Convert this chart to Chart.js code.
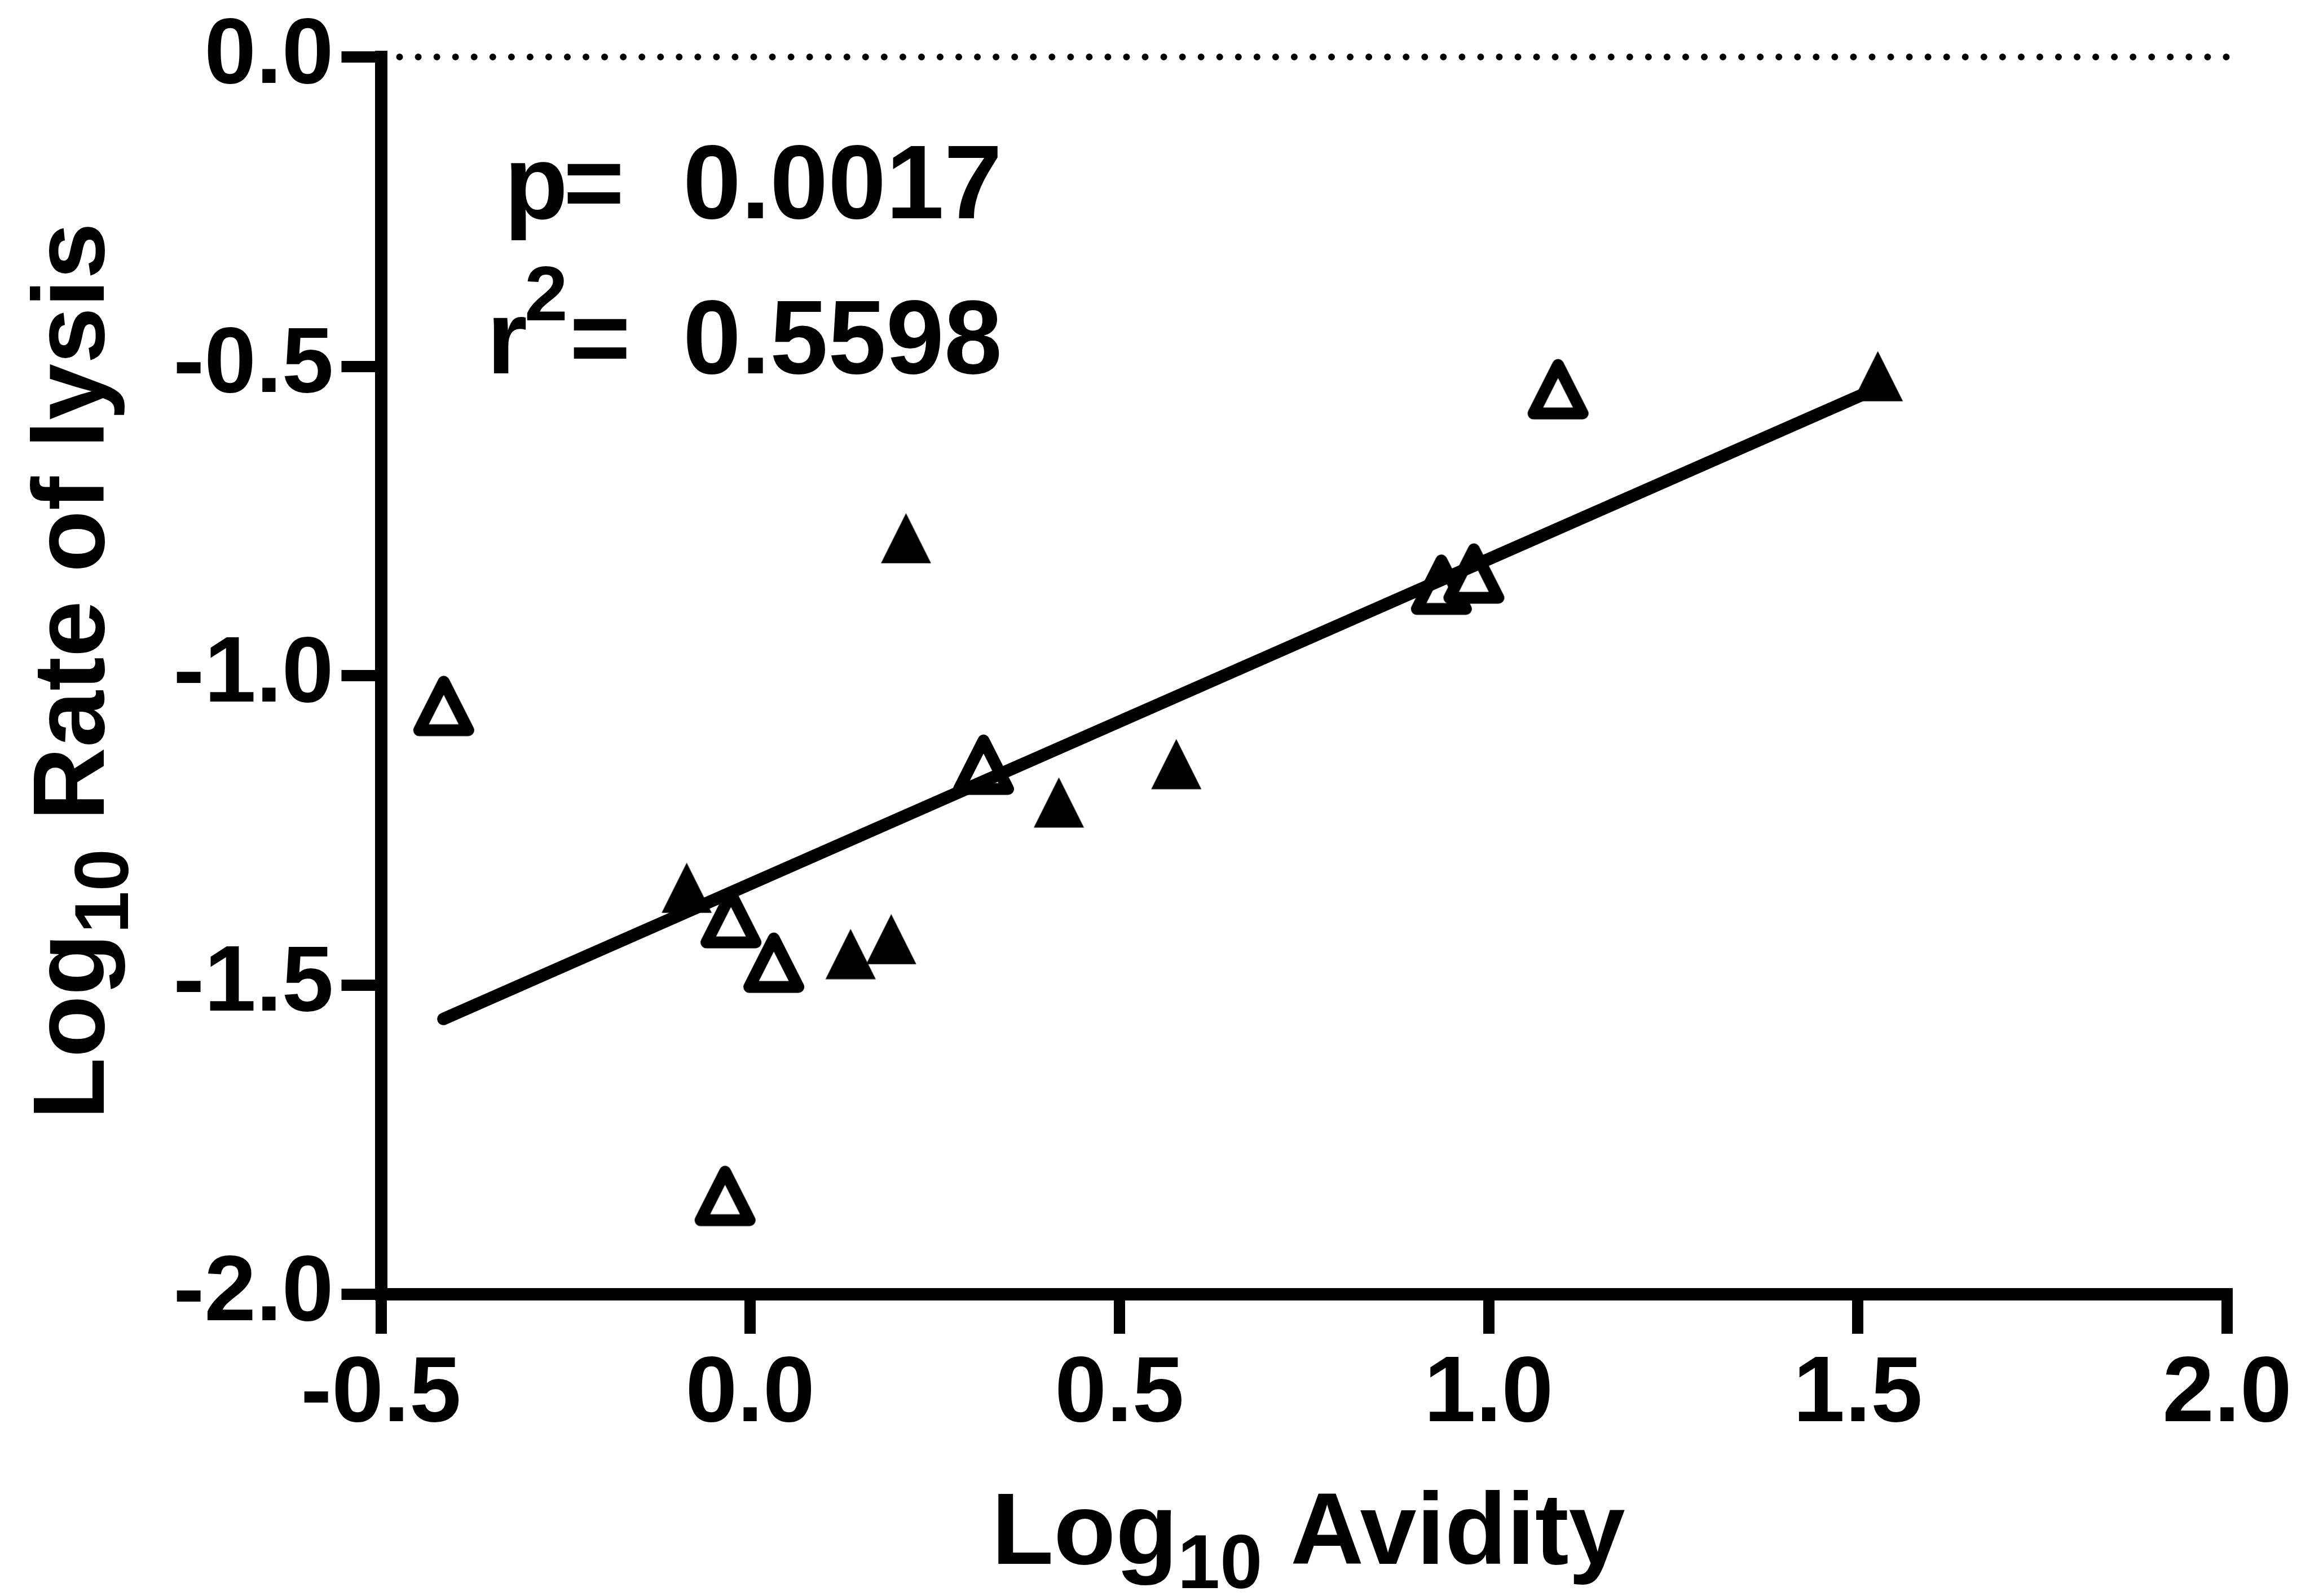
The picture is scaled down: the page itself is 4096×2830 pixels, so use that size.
<!DOCTYPE html>
<html>
<head>
<meta charset="utf-8">
<script src="https://cdn.jsdelivr.net/npm/chart.js@4.4.1/dist/chart.umd.min.js"></script>
<style>
  html, body { margin: 0; padding: 0; background: #fff; overflow: hidden; }
  canvas { display: block; }
</style>
</head>
<body>
<canvas id="grafica-avidez" width="4096" height="2830"></canvas>
<script>
// ticks de los ejes
const ticksX = [-0.5, 0.0, 0.5, 1.0, 1.5, 2.0];
const ticksY = [-2.0, -1.5, -1.0, -0.5, 0.0];

// triangulos abiertos
const abiertosX = [-0.415, -0.034, -0.026, 0.032, 0.316, 0.936, 0.980, 1.094];
const abiertosY = [-1.049, -1.841, -1.392, -1.464, -1.144, -0.853, -0.835, -0.537];

// triangulos rellenos
const rellenosX = [-0.086, 0.136, 0.191, 0.211, 0.418, 0.577, 1.527];
const rellenosY = [-1.343, -1.450, -1.426, -0.778, -1.205, -1.143, -0.516];

// recta de regresion
const ajusteX = [-0.4155, 1.527];
const ajusteY = [-1.555, -0.535];

// linea punteada en cero
const ceroX = [-0.5, 2.0];
const ceroY = [0, 0];

const pValor = '0.0017';
const r2Valor = '0.5598';

const FUENTE = "'Liberation Sans', Arial, Helvetica, sans-serif";

const aPuntos = (xs, ys) => xs.map((x, i) => ({ x, y: ys[i] }));

const crearTriangulo = (relleno) => {
    const c = document.createElement('canvas');
    const ctx = c.getContext('2d');
    if (relleno) {
        c.width = 90; c.height = 90;
        ctx.beginPath();
        ctx.moveTo(45, 0.5);
        ctx.lineTo(89.5, 89.5);
        ctx.lineTo(0.5, 89.5);
        ctx.closePath();
        ctx.fillStyle = '#000';
        ctx.fill();
    } else {
        c.width = 110; c.height = 110;
        ctx.beginPath();
        ctx.moveTo(55, 12);
        ctx.lineTo(98.5, 98);
        ctx.lineTo(11.5, 98);
        ctx.closePath();
        ctx.fillStyle = '#fff';
        ctx.fill();
        ctx.lineJoin = 'round';
        ctx.lineWidth = 21;
        ctx.strokeStyle = '#000';
        ctx.stroke();
    }
    return c;
};

// titulo tipo "Log10 xxx" con subindice
const dibujarTituloLog = (ctx, resto, cx, base) => {
    ctx.font = `bold 180px ${FUENTE}`;
    const wLog = ctx.measureText('Log').width;
    const wResto = ctx.measureText(' ' + resto).width;
    ctx.font = `bold 135px ${FUENTE}`;
    const wSub = ctx.measureText('10').width;
    const inicio = cx - (wLog + wSub + wResto) / 2;
    ctx.textAlign = 'left';
    ctx.fillText('10', inicio + wLog, base + 43);
    ctx.font = `bold 180px ${FUENTE}`;
    ctx.fillText('Log', inicio, base);
    ctx.fillText(' ' + resto, inicio + wLog + wSub, base);
};

const textosPlugin = {
    id: 'textos',
    afterDraw(chart) {
        const ctx = chart.ctx;
        ctx.save();
        ctx.fillStyle = '#000';
        ctx.textBaseline = 'alphabetic';

        dibujarTituloLog(ctx, 'Avidity', 2320, 2773);

        ctx.save();
        ctx.translate(184, 1190);
        ctx.rotate(-Math.PI / 2);
        dibujarTituloLog(ctx, 'Rate of lysis', 0, 0);
        ctx.restore();

        ctx.textAlign = 'left';
        ctx.font = `bold 185px ${FUENTE}`;
        ctx.fillText('p', 894, 387);
        ctx.fillText('=', 999, 387);
        ctx.fillText(pValor, 1211, 387);
        ctx.fillText('r', 863, 662);
        ctx.fillText('=', 1010, 662);
        ctx.fillText(r2Valor, 1211, 662);
        ctx.font = `bold 138px ${FUENTE}`;
        ctx.fillText('2', 930, 568);
        ctx.restore();
    }
};

const formatoTick = (v) => (Math.abs(v) < 1e-9 ? '0.0' : Number(v).toFixed(1));

const ejeComun = {
    type: 'linear',
    grid: { drawOnChartArea: false, drawTicks: true, tickLength: 70, lineWidth: 20, color: '#000' },
    border: { display: true, width: 22, color: '#000' },
    title: { display: false }
};

const ctx = document.getElementById('grafica-avidez').getContext('2d');
new Chart(ctx, {
    type: 'scatter',
    data: {
        datasets: [
            {
                label: 'fit',
                data: aPuntos(ajusteX, ajusteY),
                showLine: true,
                borderColor: '#000',
                borderWidth: 22,
                borderCapStyle: 'round',
                pointRadius: 0,
                order: 0
            },
            {
                label: 'filled',
                data: aPuntos(rellenosX, rellenosY),
                pointStyle: crearTriangulo(true),
                pointRadius: 10,
                order: 1
            },
            {
                label: 'open',
                data: aPuntos(abiertosX, abiertosY),
                pointStyle: crearTriangulo(false),
                pointRadius: 10,
                order: 2
            },
            {
                label: 'zero',
                data: aPuntos(ceroX, ceroY),
                showLine: true,
                borderColor: '#000',
                borderWidth: 12,
                borderDash: [0, 33.05],
                borderCapStyle: 'round',
                pointRadius: 0,
                order: 3
            }
        ]
    },
    options: {
        responsive: false,
        animation: false,
        devicePixelRatio: 1,
        clip: false,
        layout: { padding: { top: 101, right: 147, left: 0, bottom: 0 } },
        plugins: { legend: { display: false }, tooltip: { enabled: false } },
        scales: {
            x: {
                ...ejeComun,
                position: 'bottom',
                min: -0.5,
                max: 2.0,
                afterBuildTicks: (scale) => { scale.ticks = ticksX.map(v => ({ value: v })); },
                afterFit: (scale) => { scale.height = 535; },
                ticks: {
                    color: '#000',
                    padding: 10,
                    autoSkip: false,
                    maxRotation: 0,
                    font: { family: FUENTE, size: 165, weight: 'bold' },
                    callback: formatoTick
                }
            },
            y: {
                ...ejeComun,
                position: 'left',
                min: -2.0,
                max: 0.0,
                afterBuildTicks: (scale) => { scale.ticks = ticksY.map(v => ({ value: v })); },
                afterFit: (scale) => { scale.width = 675.5; },
                ticks: {
                    color: '#000',
                    padding: 14,
                    autoSkip: false,
                    font: { family: FUENTE, size: 165, weight: 'bold', lineHeight: 1.0 },
                    callback: formatoTick
                }
            }
        }
    },
    plugins: [textosPlugin]
});
</script>
</body>
</html>
